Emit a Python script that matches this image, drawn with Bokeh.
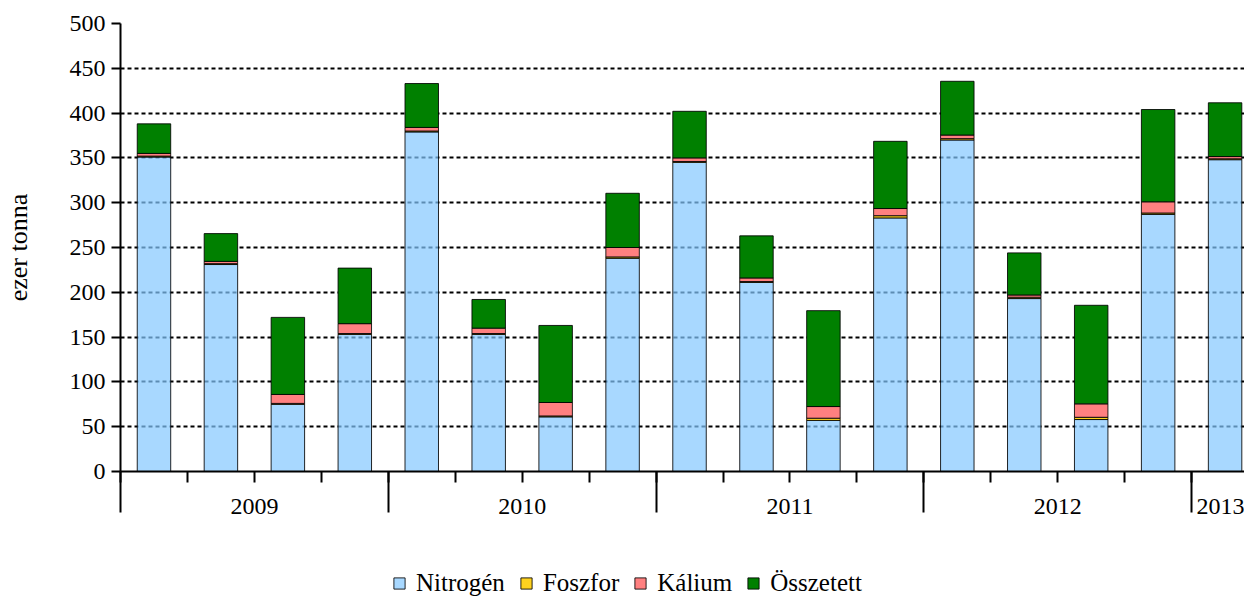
from bokeh.plotting import figure
from bokeh.layouts import column
from bokeh.models import (Range1d, FixedTicker, LinearAxis, ColumnDataSource, Legend,
                          LegendItem)
from bokeh.embed import file_html
from bokeh.resources import INLINE

# ---- data (ezer tonna) ----
years = ["2009", "2009", "2009", "2009", "2010", "2010", "2010", "2010",
         "2011", "2011", "2011", "2011", "2012", "2012", "2012", "2012", "2013"]
nitrogen = [351, 231, 75, 153, 379, 153, 61, 238, 345, 211, 57, 283, 370, 193, 58, 287, 348]
foszfor = [1, 1, 1, 1, 1, 1, 1, 1.5, 1, 1, 2.5, 2.5, 1.5, 1.5, 2.5, 1.5, 1]
kalium = [3, 2.5, 10, 11, 4, 6, 15, 10.5, 4, 4, 13, 8, 4, 2.5, 15, 12.5, 2.5]
osszetett = [33, 31, 86, 62, 49, 32, 86, 60.5, 52, 47, 107, 75, 60, 47, 110, 103, 60]
series_names = ["Nitrogén", "Foszfor", "Kálium", "Összetett"]
y_ticks = list(range(0, 501, 50))

FONT = "Liberation Serif"
colors = ["#83C7FF", "#FFD21E", "#FF8080", "#008000"]
alphas = [0.7, 1.0, 1.0, 1.0]

n = len(years)
xs = [i + 0.5 for i in range(n)]
W = 1244
X_END = 16.79

p = figure(width=W, height=547, output_backend="svg", toolbar_location=None,
           x_range=Range1d(0, X_END), y_range=Range1d(0, 500),
           min_border_left=115, min_border_right=0, min_border_top=23,
           min_border_bottom=76)
p.outline_line_color = None
p.background_fill_color = "white"

# stacked bars
data = {"x": xs, "n": nitrogen, "f": foszfor, "k": kalium, "o": osszetett}
bottoms = [0] * n
sources = []
renderers = []
for key, col, a in zip(["n", "f", "k", "o"], colors, alphas):
    vals = data[key]
    tops = [b + v for b, v in zip(bottoms, vals)]
    src = ColumnDataSource(dict(x=xs, bottom=bottoms, top=tops))
    sources.append(src)
    r = p.vbar(x="x", bottom="bottom", top="top", width=0.5, source=src,
               fill_color=col, fill_alpha=a, line_color="black", line_width=1,
               line_alpha=0.85)
    renderers.append(r)
    bottoms = tops

# grid
p.xgrid.visible = False
p.ygrid.ticker = FixedTicker(ticks=y_ticks)
p.ygrid.grid_line_color = "black"
p.ygrid.grid_line_width = 2
p.ygrid.grid_line_dash = "4 3"
p.ygrid.level = "underlay"

# y axis
yax = p.yaxis[0]
yax.ticker = FixedTicker(ticks=y_ticks)
yax.axis_line_width = 2
yax.major_tick_line_width = 2
yax.major_tick_out = 9
yax.major_tick_in = 0
yax.minor_tick_line_color = None
yax.major_label_text_font = FONT
yax.major_label_text_font_size = "24px"
yax.major_label_text_color = "black"
yax.major_label_standoff = 6
yax.axis_label = "ezer tonna"
yax.axis_label_text_font = FONT
yax.axis_label_text_font_size = "26px"
yax.axis_label_text_font_style = "normal"
yax.axis_label_text_color = "black"
yax.axis_label_standoff = 34

# x axis: long ticks at year boundaries, short ticks at quarter boundaries
year_order = []
for y in years:
    if y not in year_order:
        year_order.append(y)
boundaries = [0]
for yname in year_order:
    boundaries.append(boundaries[-1] + years.count(yname))
xax = p.xaxis[0]
xax.ticker = FixedTicker(ticks=boundaries, minor_ticks=list(range(n + 1)))
xax.major_label_overrides = {b: "" for b in boundaries}
xax.major_label_text_font_size = "1px"
xax.major_label_standoff = 0
xax.axis_line_width = 2
xax.major_tick_line_width = 2
xax.major_tick_out = 41
xax.major_tick_in = 0
xax.minor_tick_line_width = 2
xax.minor_tick_line_color = "black"
xax.minor_tick_out = 11
xax.minor_tick_in = 0

# year labels centred under their quarters (second axis, labels only)
centers = []
for yname in year_order:
    idx = [xs[i] for i in range(n) if years[i] == yname]
    centers.append(sum(idx) / len(idx))
yl = LinearAxis(ticker=FixedTicker(ticks=centers),
                major_label_overrides={c: t for c, t in zip(centers, year_order)},
                axis_line_color=None, major_tick_line_color=None,
                minor_tick_line_color=None, major_tick_out=0, major_tick_in=0,
                major_label_standoff=-14, major_label_text_font=FONT,
                major_label_text_font_size="24px", major_label_text_color="black")
p.add_layout(yl, "below")

# legend in its own strip below the chart (same bars, kept outside this strip's view)
lf = figure(width=W, height=50, output_backend="svg", toolbar_location=None,
            x_range=Range1d(1000, 1001), y_range=Range1d(1000, 1001),
            min_border_left=0, min_border_right=0, min_border_top=0,
            min_border_bottom=0)
lf.axis.visible = False
lf.grid.visible = False
lf.outline_line_color = None
lrs = []
for src, col, a in zip(sources, colors, alphas):
    lrs.append(lf.vbar(x="x", bottom="bottom", top="top", width=0.5, source=src,
                       fill_color=col, fill_alpha=a, line_color="black",
                       line_width=1, line_alpha=0.85))
items = [LegendItem(label=nm, renderers=[r]) for nm, r in zip(series_names, lrs)]
legend = Legend(items=items, orientation="horizontal", location=(272, 0),
                label_text_font=FONT, label_text_font_size="25px",
                label_text_color="black",
                glyph_width=14, glyph_height=14, label_standoff=10, spacing=14,
                border_line_color=None, background_fill_alpha=0,
                padding=0, margin=0, label_height=24)
lf.add_layout(legend)

open("out.html", "w").write(file_html(column(p, lf, spacing=0), INLINE))
